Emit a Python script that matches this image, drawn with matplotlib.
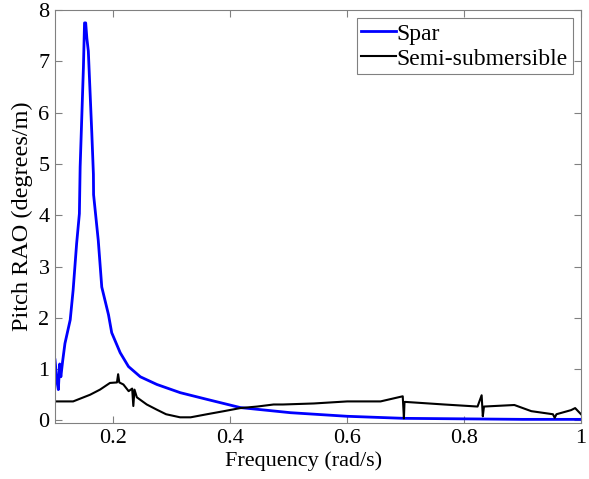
import matplotlib
matplotlib.use("Agg")
import matplotlib.pyplot as plt

# Spar pitch RAO
spar_freq = [0.100, 0.1035, 0.1057, 0.108, 0.110, 0.113, 0.117, 0.126, 0.131, 0.137, 0.1417, 0.143,
             0.1486, 0.1505, 0.1525, 0.1545, 0.157, 0.163, 0.1657, 0.166, 0.174, 0.180, 0.1915,
             0.197, 0.2115, 0.2257, 0.246, 0.2744, 0.3144, 0.360, 0.417, 0.503, 0.600, 0.697,
             0.80, 0.90, 1.00]
spar_rao = [1.18, 0.75, 0.60, 1.10, 0.85, 1.15, 1.50, 1.96, 2.54, 3.45, 4.03, 4.94,
            6.88, 7.75, 7.75, 7.45, 7.20, 5.59, 4.80, 4.40, 3.51, 2.60, 2.06,
            1.71, 1.32, 1.05, 0.85, 0.70, 0.54, 0.41, 0.25, 0.15, 0.08, 0.04,
            0.03, 0.02, 0.02]

# Semi-submersible pitch RAO
semi_freq = [0.100, 0.131, 0.160, 0.177, 0.194, 0.206, 0.208, 0.210, 0.217, 0.226, 0.232,
             0.234, 0.236, 0.240, 0.257, 0.274, 0.290, 0.314, 0.332, 0.360, 0.389,
             0.417, 0.446, 0.474, 0.490, 0.543, 0.600, 0.657, 0.695, 0.697, 0.698,
             0.700, 0.766, 0.823, 0.830, 0.832, 0.834, 0.886, 0.915, 0.952, 0.955,
             0.958, 0.983, 0.990, 1.000]
semi_rao = [0.37, 0.37, 0.50, 0.60, 0.73, 0.74, 0.90, 0.74, 0.70, 0.57, 0.62,
            0.28, 0.60, 0.45, 0.31, 0.21, 0.12, 0.06, 0.06, 0.12, 0.18,
            0.24, 0.27, 0.31, 0.31, 0.33, 0.37, 0.37, 0.47, 0.04, 0.36,
            0.36, 0.31, 0.27, 0.49, 0.08, 0.27, 0.30, 0.18, 0.12, 0.05,
            0.12, 0.20, 0.24, 0.12]

x_ticks = [0.2, 0.4, 0.6, 0.8, 1.0]
x_tick_labels = ["0.2", "0.4", "0.6", "0.8", "1"]
y_ticks = [0, 1, 2, 3, 4, 5, 6, 7, 8]

plt.rcParams['font.family'] = ['Liberation Serif', 'DejaVu Serif']

fig = plt.figure(figsize=(5.89, 4.79), dpi=100)
ax = fig.add_axes([0.0934, 0.117, 0.893, 0.862])

ax.plot(spar_freq, spar_rao, color='#0000ff', lw=2.0, label='Spar')
ax.plot(semi_freq, semi_rao, color='black', lw=1.5, label='Semi-submersible')

ax.set_xlim(0.1, 1.0)
ax.set_ylim(-0.05, 8)
ax.set_xticks(x_ticks)
ax.set_xticklabels(x_tick_labels)
ax.set_yticks(y_ticks)

for s in ax.spines.values():
    s.set_color('#808080')
    s.set_linewidth(0.8)
ax.tick_params(direction='in', top=True, right=True, length=5, color='#808080',
               labelsize=16, labelcolor='black', pad=4)

ax.set_xlabel('Frequency (rad/s)', fontsize=16)
ax.xaxis.set_label_coords(0.473, -0.068, transform=ax.transAxes)
ax.xaxis.label.set_va('top')
ax.set_ylabel('Pitch RAO (degrees/m)', fontsize=17.5)
ax.yaxis.set_label_coords(-0.042, 0.5, transform=ax.transAxes)

leg = ax.legend(loc='upper right', fontsize=17, frameon=True, fancybox=False,
                edgecolor='#808080', framealpha=1, borderpad=0.2,
                handlelength=1.45, handletextpad=0.05, labelspacing=0.15,
                borderaxespad=0.35)
leg.get_frame().set_linewidth(0.8)

fig.savefig('out.png', dpi=100)
